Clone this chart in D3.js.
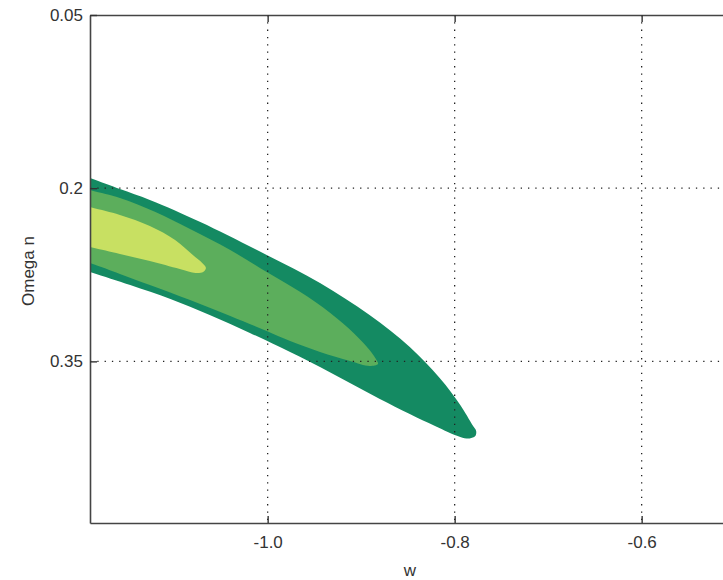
<!DOCTYPE html>
<html>
<head>
<meta charset="utf-8">
<script src="https://cdn.jsdelivr.net/npm/d3@7"></script>
<style>
  body { margin: 0; background: #fff; }
  text { font-family: "Liberation Sans", Arial, sans-serif; fill: #333; }
</style>
</head>
<body>
<div id="chart"></div>
<script>
// axis ticks
var wTicks = [-1.0, -0.8, -0.6];
var omegaTicks = [0.05, 0.2, 0.35];

// contour outlines [w, Omega n], top edge left->right then bottom edge back
var outerLevel = [
    [-1.26, 0.1704], [-1.19, 0.1912], [-1.158, 0.2007], [-1.126, 0.2102], [-1.072, 0.2293],
    [-1.001, 0.2579], [-0.944, 0.2821], [-0.891, 0.3099], [-0.848, 0.3376], [-0.816, 0.3644],
    [-0.794, 0.3878], [-0.781, 0.4051], [-0.777, 0.4103], [-0.778, 0.4147],
    [-0.784, 0.4168], [-0.794, 0.4155], [-0.821, 0.4060], [-0.848, 0.3956], [-0.880, 0.3826],
    [-0.912, 0.3688], [-0.944, 0.3549], [-0.976, 0.3419], [-1.019, 0.3254], [-1.062, 0.3099],
    [-1.104, 0.2960], [-1.147, 0.2839], [-1.19, 0.2726], [-1.26, 0.2544]
];
var middleLevel = [
    [-1.26, 0.1860], [-1.19, 0.2016], [-1.158, 0.2085], [-1.120, 0.2206], [-1.083, 0.2354],
    [-1.040, 0.2536], [-1.001, 0.2726], [-0.965, 0.2899], [-0.933, 0.3081], [-0.907, 0.3263],
    [-0.891, 0.3402], [-0.883, 0.3497], [-0.882, 0.3523],
    [-0.891, 0.3540], [-0.912, 0.3497], [-0.944, 0.3419], [-0.976, 0.3324], [-1.001, 0.3237],
    [-1.040, 0.3107], [-1.083, 0.2969], [-1.126, 0.2839], [-1.158, 0.2743], [-1.19, 0.2648],
    [-1.26, 0.2475]
];
var innerLevel = [
    [-1.26, 0.2007], [-1.19, 0.2163], [-1.158, 0.2232], [-1.126, 0.2328], [-1.099, 0.2449],
    [-1.080, 0.2579], [-1.070, 0.2648], [-1.066, 0.2691], [-1.069, 0.2726],
    [-1.077, 0.2735], [-1.094, 0.2700], [-1.126, 0.2631], [-1.158, 0.2570], [-1.19, 0.2510],
    [-1.26, 0.2380]
];
var levelColors = ["#148a62", "#5cae5c", "#c8e062"];

var width = 723, height = 580;
var plotLeft = 90, plotTop = 15, plotBottom = 523, plotRight = 723;

var x = d3.scaleLinear().domain([-1.19, -0.51]).range([plotLeft, plotLeft + 0.68 * 935]);
var y = d3.scaleLinear().domain([0.05, 0.49]).range([plotTop, plotBottom]);

var svg = d3.select("#chart").append("svg")
    .attr("width", width)
    .attr("height", height);

svg.append("defs").append("clipPath").attr("id", "plotClip")
    .append("rect")
    .attr("x", plotLeft).attr("y", plotTop)
    .attr("width", plotRight - plotLeft).attr("height", plotBottom - plotTop);

var line = d3.line()
    .x(function (d) { return x(d[0]); })
    .y(function (d) { return y(d[1]); })
    .curve(d3.curveCatmullRomClosed.alpha(0.5));

var contours = svg.append("g").attr("clip-path", "url(#plotClip)");
[outerLevel, middleLevel, innerLevel].forEach(function (lv, i) {
    contours.append("path")
        .attr("d", line(lv))
        .style("fill", levelColors[i]);
});

// dotted grid
var grid = svg.append("g").attr("clip-path", "url(#plotClip)")
    .style("stroke", "#222").style("stroke-width", 1.3).style("stroke-dasharray", "1.3,6");
grid.selectAll(".gx").data(wTicks).enter().append("line")
    .attr("x1", function (d) { return x(d); }).attr("x2", function (d) { return x(d); })
    .attr("y1", plotTop).attr("y2", plotBottom);
grid.selectAll(".gy").data(omegaTicks.slice(1)).enter().append("line")
    .attr("y1", function (d) { return y(d); }).attr("y2", function (d) { return y(d); })
    .attr("x1", plotLeft).attr("x2", plotRight);

// axes
var fmtW = function (d) { return d.toFixed(1); };
svg.append("g")
    .attr("transform", "translate(0," + plotBottom + ")")
    .call(d3.axisBottom(x).tickValues(wTicks).tickFormat(fmtW)
        .tickSizeInner(-7).tickSizeOuter(0).tickPadding(13));
svg.append("g")
    .attr("transform", "translate(0," + plotTop + ")")
    .call(d3.axisTop(x).tickValues(wTicks).tickFormat("")
        .tickSizeInner(-7).tickSizeOuter(0));
svg.append("g")
    .attr("transform", "translate(" + plotLeft + ",0)")
    .call(d3.axisLeft(y).tickValues(omegaTicks).tickFormat(function (d) { return String(d); })
        .tickSizeInner(-7).tickSizeOuter(0).tickPadding(7));

svg.selectAll(".domain").style("stroke", "#444").style("stroke-width", 1.6);
svg.selectAll(".tick line").style("stroke", "#333").style("stroke-width", 1.4);
svg.selectAll(".tick text")
    .style("font-family", "'Liberation Sans', Arial, sans-serif")
    .style("font-size", "17px")
    .style("fill", "#333");

svg.append("text")
    .attr("x", 410).attr("y", 576)
    .attr("text-anchor", "middle")
    .style("font-size", "17px")
    .text("w");

svg.append("text")
    .attr("transform", "translate(34,271) rotate(-90)")
    .attr("text-anchor", "middle")
    .style("font-size", "17px")
    .text("Omega n");
</script>
</body>
</html>
